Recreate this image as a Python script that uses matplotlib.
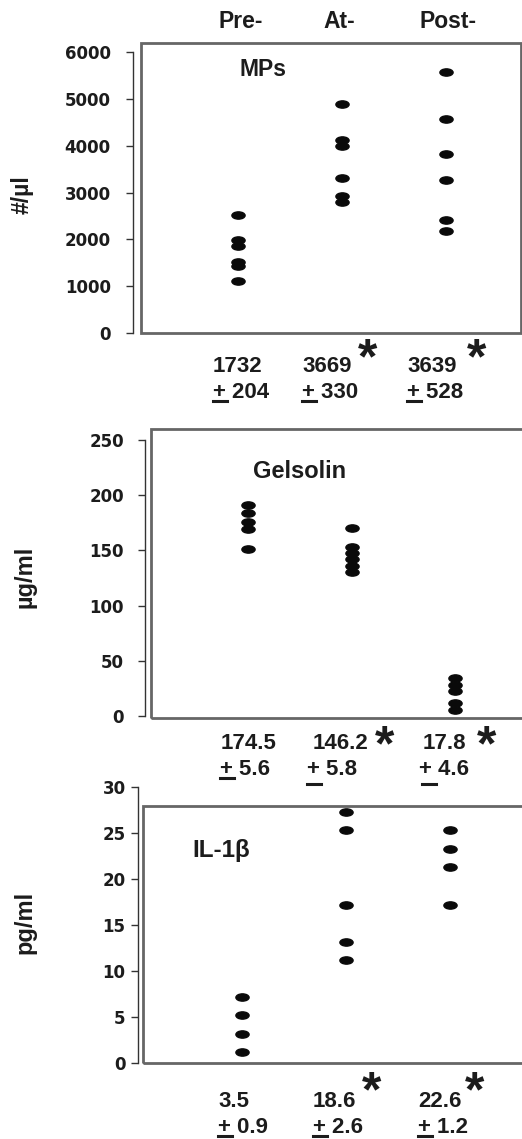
import matplotlib
matplotlib.use("Agg")
import matplotlib.pyplot as plt
from matplotlib.path import Path
from matplotlib.transforms import Affine2D
from matplotlib.patches import Rectangle
from matplotlib.lines import Line2D

W, H = 522, 1139

# data
groups = ["Pre-", "At-", "Post-"]

mps_pre = [2527, 1979, 1865, 1516, 1423, 1103]
mps_at = [4897, 4128, 3986, 3310, 2918, 2797]
mps_post = [5566, 4577, 3829, 3260, 2420, 2185]
mps_mean = ["1732", "3669", "3639"]
mps_sem = ["204", "330", "528"]
mps_star = [False, True, True]

gel_pre = [191, 184, 176, 169, 151]
gel_at = [170, 153, 148, 142, 136, 130]
gel_post = [34, 28, 23, 12, 5]
gel_mean = ["174.5", "146.2", "17.8"]
gel_sem = ["5.6", "5.8", "4.6"]
gel_star = [False, True, True]

il_pre = [7.2, 5.2, 3.2, 1.2]
il_at = [27.3, 25.3, 17.2, 13.2, 11.2]
il_post = [25.3, 23.3, 21.3, 17.2]
il_mean = ["3.5", "18.6", "22.6"]
il_sem = ["0.9", "2.6", "1.2"]
il_star = [False, True, True]

ellipse = Path.unit_circle().transformed(Affine2D().scale(1.0, 0.55))

fig = plt.figure(figsize=(W / 100, H / 100), dpi=100)
fig.patch.set_facecolor("white")
INK = "#1c1c1c"

def px_axes(x0, x1, y_top, y_bot):
    return fig.add_axes([x0 / W, 1 - y_bot / H, (x1 - x0) / W, (y_bot - y_top) / H])

def ftext(x, y, s, **kw):
    kw.setdefault("fontfamily", "Liberation Sans")
    kw.setdefault("fontweight", "bold")
    kw.setdefault("color", INK)
    fig.text(x / W, 1 - y / H, s, **kw)

def hline(x0, x1, y, lw=2.2):
    fig.add_artist(Line2D([x0 / W, x1 / W], [1 - y / H, 1 - y / H],
                          transform=fig.transFigure, color=INK, linewidth=lw))

def panel(rect, ylim, ticks, series, xfirst, spacing, box, pad):
    x0, x1, yt, yb = rect
    ax = px_axes(x0, x1, yt, yb)
    left = -(xfirst - x0) / spacing
    ax.set_xlim(left, left + (x1 - x0) / spacing)
    ax.set_ylim(*ylim)
    for i, vals in enumerate(series):
        ax.plot([i] * len(vals), vals, linestyle="none", marker=ellipse,
                markersize=9.5, color="#0a0a0a", clip_on=False)
    for s in ["top", "right", "bottom"]:
        ax.spines[s].set_visible(False)
    ax.spines["left"].set_color("#333333")
    ax.spines["left"].set_linewidth(1.0)
    ax.set_xticks([])
    ax.set_yticks(ticks)
    ax.tick_params(axis="y", length=5, width=1.0, color="#333333", pad=pad)
    for lab in ax.get_yticklabels():
        lab.set_fontfamily("DejaVu Sans")
        lab.set_fontweight("bold")
        lab.set_fontsize(12)
        lab.set_color(INK)
    bx0, bx1, by_top, by_bot = box
    ax.add_patch(Rectangle(((bx0 - x0) / (x1 - x0), (yb - by_bot) / (yb - yt)),
                           (bx1 - bx0) / (x1 - x0), (by_bot - by_top) / (yb - yt),
                           transform=ax.transAxes, fill=False, edgecolor="#666666",
                           linewidth=2.0, clip_on=False, zorder=0))
    ax.patch.set_alpha(0)
    return ax

def stats(xs_mean, xs_sem, base_mean, base_sem, means, sems, stars, star_dx, star_y,
          ul_x, ul_y):
    for i, (m, s, st) in enumerate(zip(means, sems, stars)):
        ftext(xs_mean[i], base_mean, m, fontsize=16, ha="left", va="baseline")
        ftext(xs_sem[i], base_sem, "+ " + s, fontsize=16, ha="left", va="baseline")
        hline(ul_x[i], ul_x[i] + 14, ul_y[i])
        if st:
            ftext(xs_mean[i] + star_dx[i], star_y, "*", fontsize=36, ha="left",
                  va="center")

# top headers
for x, g in zip([241, 339, 448], groups):
    ftext(x, 22, g, fontsize=16.5, ha="center", va="center")

# panel 1: MPs
panel((133, 521, 52, 333), (0, 6000), range(0, 6001, 1000),
      [mps_pre, mps_at, mps_post], 238, 104, (141, 521, 43, 333), 11)
ftext(263, 70, "MPs", fontsize=16.5, ha="center", va="center")
ftext(22, 195, "#/µl", fontsize=16.5, ha="center", va="center", rotation=90)
stats([213, 302, 407], [213, 302, 407], 372, 398, mps_mean, mps_sem, mps_star,
      [0, 56, 60], 360, [213, 302, 407], [401, 401, 401])

# panel 2: Gelsolin
panel((145, 522, 440, 716), (0, 250), range(0, 251, 50),
      [gel_pre, gel_at, gel_post], 248, 103.5, (151, 524, 429, 718), 10)
ftext(300, 472, "Gelsolin", fontsize=17, ha="center", va="center")
ftext(25, 577, "µg/ml", fontsize=17, ha="center", va="center", rotation=90)
stats([221, 313, 423], [220, 307, 419], 749, 775, gel_mean, gel_sem, gel_star,
      [0, 62, 54], 747, [220, 307, 422], [778, 784, 784])

# panel 3: IL-1beta
panel((138, 522, 787, 1063), (0, 30), range(0, 31, 5),
      [il_pre, il_at, il_post], 242, 104, (143, 524, 806, 1063), 4)
ftext(221, 850, "IL-1β", fontsize=17.5, ha="center", va="center")
ftext(25, 922, "pg/ml", fontsize=17, ha="center", va="center", rotation=90)
stats([218, 313, 418], [218, 313, 418], 1107, 1133, il_mean, il_sem, il_star,
      [0, 49, 47], 1093, [218, 313, 418], [1136, 1136, 1136])

fig.savefig("out.png", dpi=100)
